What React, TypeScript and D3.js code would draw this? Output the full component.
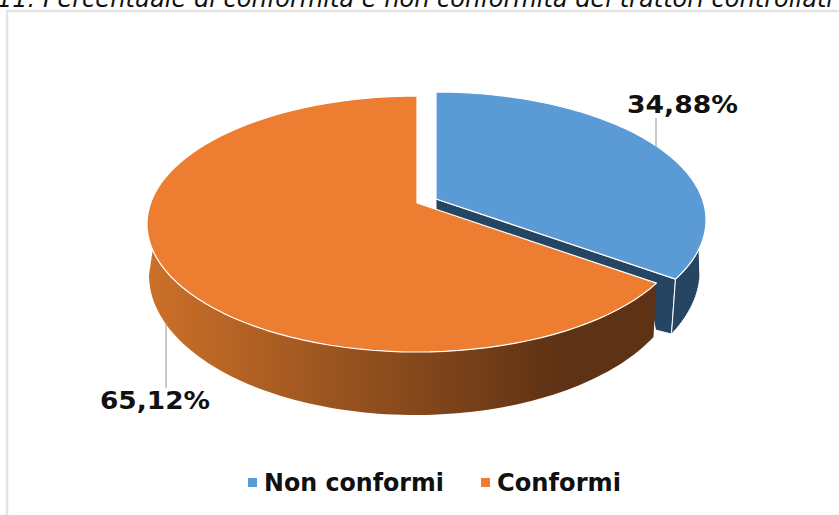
import React from "react";
import * as d3 from "d3";

const WIDTH = 839;
const HEIGHT = 515;

const categories = ["Non conformi", "Conformi"];
const values = [34.88, 65.12];
const labels = ["34,88%", "65,12%"];
const colors = ["#5B9BD5", "#ED7D31"];
const sideColors = ["#264562", "#5E3214"];

const TITLE = "11. Percentuale di conformità e non conformità dei trattori controllati";

// top face ellipse, k moves the pie centre off the ellipse centre (perspective)
const TOP = { cx: 417, cy: 224, rx: 270, ry: 128, k: -0.164 };
// lower rim of the drum
const LOW = { cx: 415, cy: 275, rx: 266, ry: 140 };
const EXPLODE = { x: 19, y: -4 };

const project = (a: number) => {
  const u = Math.sin(a);
  const v = -Math.cos(a);
  const den = 1 + TOP.k * v;
  return [
    TOP.cx + (TOP.rx * u * Math.sqrt(1 - TOP.k * TOP.k)) / den,
    TOP.cy + (TOP.ry * (v + TOP.k)) / den,
  ] as [number, number];
};
const apex: [number, number] = [TOP.cx, TOP.cy + TOP.ry * TOP.k];
const lowPoint = (t: number) =>
  [LOW.cx + LOW.rx * Math.cos(t), LOW.cy + LOW.ry * Math.sin(t)] as [number, number];
const lowAngleAtX = (x: number) => Math.acos((x - LOW.cx) / LOW.rx);

const shift = (p: [number, number]) => [p[0] + EXPLODE.x, p[1] + EXPLODE.y] as [number, number];
const line = d3.line();
const sample = (a0: number, a1: number, n = 90) =>
  d3.range(n + 1).map((i) => a0 + ((a1 - a0) * i) / n);

export default function App() {
  const arcs = d3.pie<number>().sort(null)(values);
  const blue = arcs[0];
  const orange = arcs[1];

  const blueRim = sample(blue.startAngle, blue.endAngle).map((a) => shift(project(a)));
  const orangeRim = sample(orange.startAngle, orange.endAngle).map(project);
  const blueTop = line([shift(apex), ...blueRim]) + "Z";
  const orangeTop = line([apex, ...orangeRim]) + "Z";

  const cutB = shift(project(blue.endAngle));
  const cutO = project(orange.startAngle);

  // orange drum side: from the cut round the front to the left end
  const leftA = Math.PI * 1.56;
  const orangeEdge = sample(orange.startAngle, leftA).map(project);
  const tEnd = lowAngleAtX(cutO[0] - 3);
  const orangeLow = sample(Math.PI, tEnd).map(lowPoint);
  const orangeSide = line([...orangeEdge, ...orangeLow]) + "Z";

  // blue outer side, only the part below the widest point of the top face
  const blueEdge = sample(Math.PI * 0.47, blue.endAngle, 40).map((a) => shift(project(a)));
  const tB = lowAngleAtX(cutB[0] - 4 - EXPLODE.x);
  const blueLow = sample(tB, 0.03, 40).map((t) => shift(lowPoint(t)));
  const blueSide = line([...blueEdge, ...blueLow]) + "Z";

  // cut face under the blue slice, orange covers most of it
  const faceEnd = shift(lowPoint(tB));
  const blueFace =
    line([
      shift(apex),
      cutB,
      faceEnd,
      [cutO[0] - 1, faceEnd[1] - 4],
      [cutO[0] - 10, cutO[1]],
      [apex[0] + EXPLODE.x, apex[1] + 14],
    ]) + "Z";

  return (
    <svg
      width={WIDTH}
      height={HEIGHT}
      style={{ position: "absolute", left: 0, top: 0, background: "#fff" }}
      fontFamily="DejaVu Sans"
    >
      <defs>
        <linearGradient id="sideGrad" gradientUnits="userSpaceOnUse" x1={150} x2={560} y1={0} y2={0}>
          <stop offset="0" stopColor="#CC7029" />
          <stop offset="1" stopColor={sideColors[1]} />
        </linearGradient>
      </defs>

      <text x={-3} y={7} fontSize={24} fontStyle="italic" fill="#111" textLength={836} lengthAdjust="spacingAndGlyphs">
        {TITLE}
      </text>
      <rect x={7} y={11} width={WIDTH + 20} height={HEIGHT + 20} fill="#fff" stroke="#E4E4E4" strokeWidth={2.5} />

      <path d={blueFace} fill={sideColors[0]} stroke="#fff" strokeWidth={1} strokeLinejoin="round" />
      <path d={blueSide} fill={sideColors[0]} stroke="#fff" strokeWidth={1} strokeLinejoin="round" />
      <path d={orangeSide} fill="url(#sideGrad)" />
      <path d={orangeTop} fill={colors[1]} stroke="#fff" strokeWidth={1.2} strokeLinejoin="round" />
      <path d={blueTop} fill={colors[0]} stroke="#fff" strokeWidth={1.2} strokeLinejoin="round" />

      <line x1={656} x2={656} y1={118} y2={147} stroke="#A6A6A6" strokeWidth={1.2} />
      <line x1={166} x2={166} y1={323} y2={388} stroke="#A6A6A6" strokeWidth={1.2} />

      <text x={627} y={113} fontSize={25} fontWeight="bold" fill="#111" textLength={111} lengthAdjust="spacingAndGlyphs">
        {labels[0]}
      </text>
      <text x={100} y={409} fontSize={25} fontWeight="bold" fill="#111" textLength={110} lengthAdjust="spacingAndGlyphs">
        {labels[1]}
      </text>

      {categories.map((c, i) => {
        const x = [248, 481][i];
        const w = [180, 124][i];
        return (
          <g key={c}>
            <rect x={x} y={478} width={9} height={9} fill={colors[i]} />
            <text x={x + 16} y={491} fontSize={25} fontWeight="bold" fill="#111" textLength={w} lengthAdjust="spacingAndGlyphs">
              {c}
            </text>
          </g>
        );
      })}
    </svg>
  );
}
